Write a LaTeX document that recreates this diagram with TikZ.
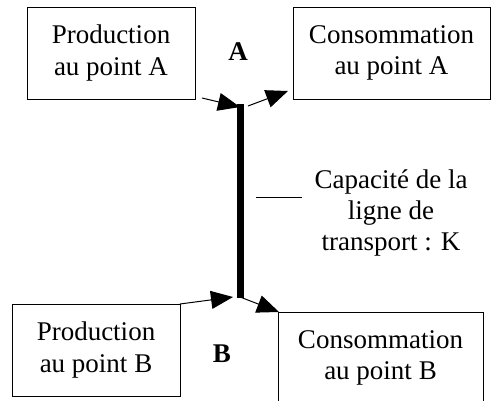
\documentclass[tikz,border=0pt]{standalone}
\usepackage{fontspec}
\setmainfont{Liberation Serif}
\usetikzlibrary{arrows.meta}
\begin{document}
\begin{tikzpicture}[x=1pt,y=-1pt,
  box/.style={draw,line width=0.9pt,inner sep=0pt,minimum width=#1,minimum height=92pt,
    align=center,font=\fontsize{27}{31.5}\selectfont},
  lbl/.style={align=center,font=\fontsize{27}{31}\selectfont},
  flow/.style={line width=1pt,-{Triangle[length=22pt,width=18pt]}},
  line/.style={line width=7pt}]
\useasboundingbox (0,0) rectangle (491,401);
% boxes
\node[box=168pt] (pA) at (111,53) {Production\\au point A};
\node[box=197pt] (cA) at (391.5,53) {Consommation\\au point A};
\node[box=168pt] (pB) at (96,350) {Production\\au point B};
\node[box=205pt] (cB) at (380.5,358) {Consommation\\au point B};
% point labels
\node[font=\fontsize{27}{30}\selectfont\bfseries] (lA) at (238,52) {A};
\node[font=\fontsize{27}{30}\selectfont\bfseries] (lB) at (222,354) {B};
% transmission line
\coordinate (jA) at (240,104);
\coordinate (jB) at (240,298);
\draw[line] (jA) -- (jB);
% flows at A
\coordinate (sA) at (202,98);
\coordinate (tA) at (240,107);
\coordinate (oA) at (248,106);
\coordinate (eA) at (288,91);
\draw[flow] (sA) -- (tA);
\draw[flow] (oA) -- (eA);
% flows at B
\coordinate (sB) at (180,304);
\coordinate (tB) at (233,297);
\coordinate (oB) at (240,297);
\coordinate (eB) at (279,312);
\draw[flow] (sB) -- (tB);
\draw[flow] (oB) -- (eB);
% capacity label
\coordinate (d1) at (256,198);
\coordinate (d2) at (302,198);
\draw[line width=1pt] (d1) -- (d2);
\node[lbl] (cap) at (391,213) {Capacité de la\\ligne de\\transport : K};
\end{tikzpicture}
\end{document}
